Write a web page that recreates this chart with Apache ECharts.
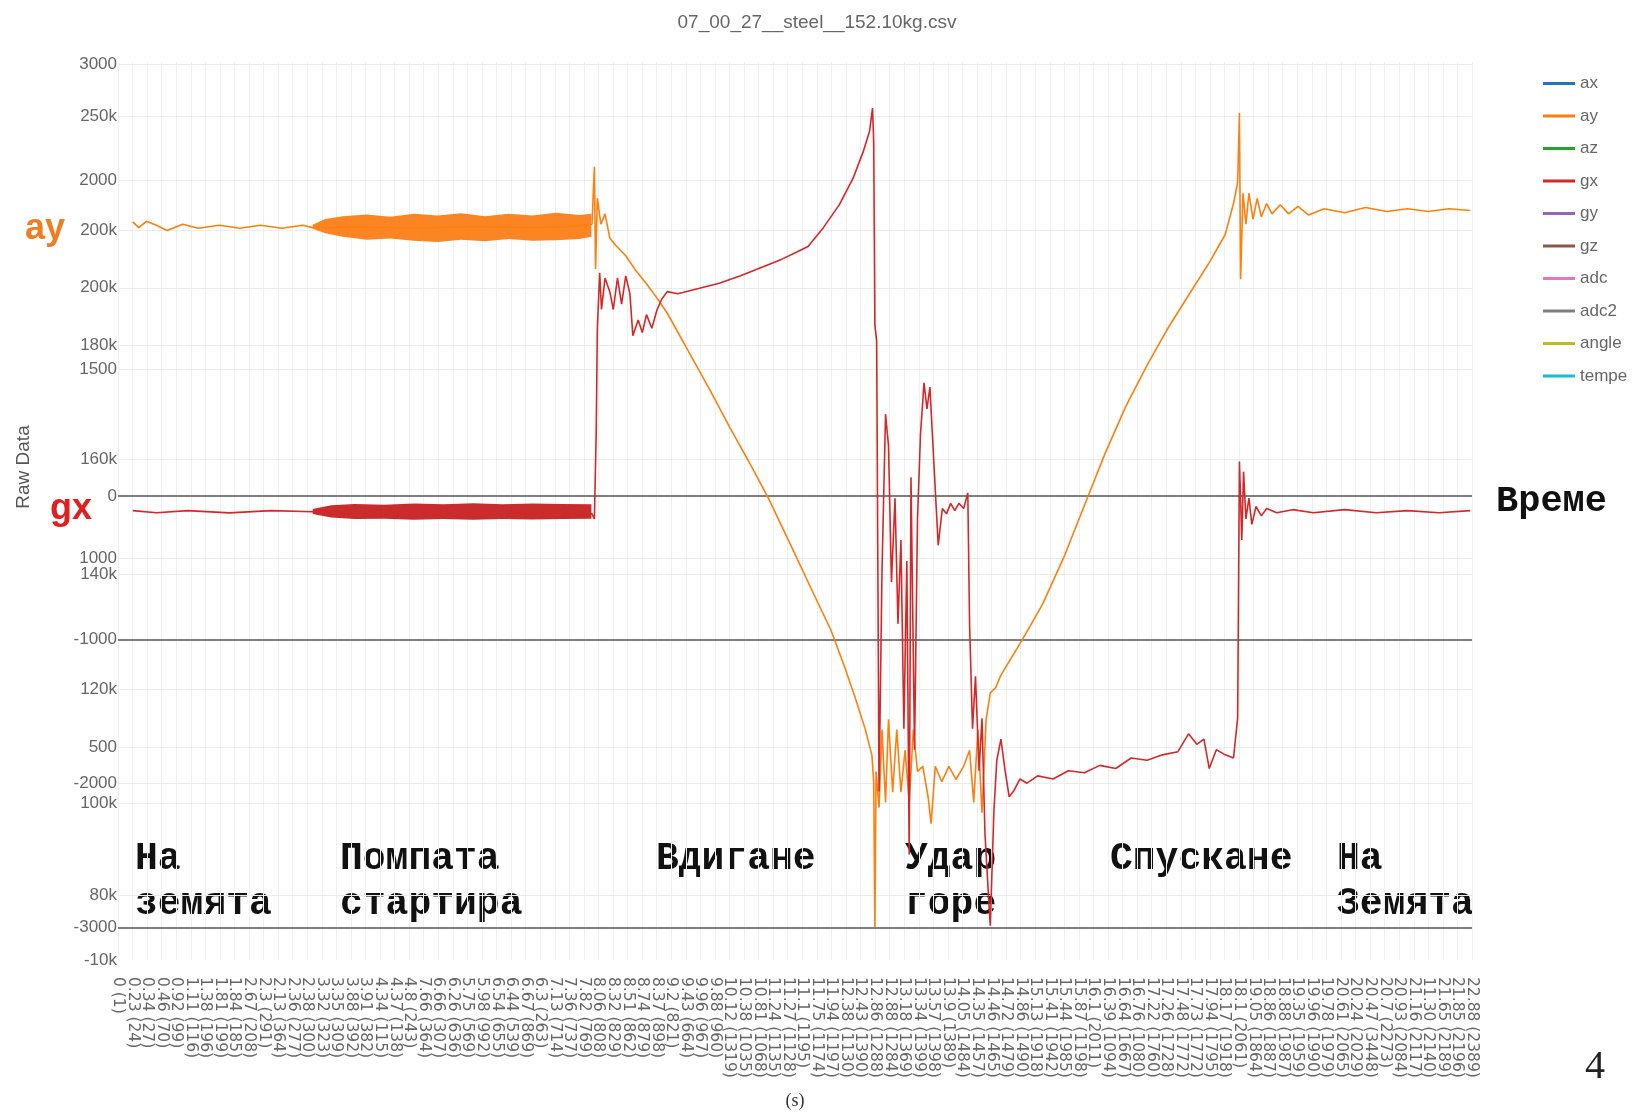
<!DOCTYPE html>
<html>
<head>
<meta charset="utf-8">
<script src="https://cdn.jsdelivr.net/npm/echarts@6/dist/echarts.min.js"></script>
<style>
html,body{margin:0;padding:0;background:#fff;}
#chart{width:1634px;height:1112px;}
</style>
</head>
<body>
<div id="chart"></div>
<script>
// x-axis category labels: "seconds (sample)"
const timeLabels = [
  '0 (1)','0.23 (24)','0.34 (27)','0.46 (70)','0.92 (99)','1.11 (116)','1.38 (196)','1.81 (199)','1.84 (185)','2.67 (208)',
  '2.3 (291)','2.13 (364)','2.36 (277)','2.38 (300)','3.32 (323)','3.35 (309)','3.88 (392)','3.91 (382)','4.34 (115)','4.37 (138)',
  '4.8 (243)','7.66 (364)','6.66 (307)','6.26 (636)','5.75 (569)','5.98 (992)','6.54 (655)','6.44 (539)','6.67 (869)','6.3 (263)',
  '7.13 (714)','7.36 (737)','7.82 (769)','8.06 (808)','8.32 (829)','8.51 (862)','8.74 (879)','8.37 (898)','9.2 (821)','9.43 (664)',
  '9.96 (967)','9.88 (960)','10.12 (1319)','10.38 (1035)','10.81 (1068)','11.24 (1135)','11.27 (1128)','11.1 (1195)','11.75 (1174)','11.94 (1197)',
  '12.38 (1130)','12.43 (1390)','12.86 (1288)','12.88 (1284)','13.18 (1369)','13.34 (1399)','13.57 (1398)','13.9 (1389)','14.05 (1484)','14.35 (1457)',
  '14.46 (1465)','14.72 (1479)','14.86 (1490)','15.13 (1918)','15.41 (1942)','15.44 (1985)','15.87 (1198)','16.1 (2011)','16.39 (1094)','16.64 (1667)',
  '16.76 (1080)','17.22 (1760)','17.26 (1728)','17.48 (1772)','17.73 (1772)','17.94 (1795)','18.17 (1918)','18.1 (2061)','19.05 (1864)','18.86 (1887)',
  '18.88 (1987)','19.35 (1959)','19.96 (1990)','19.78 (1979)','20.61 (2065)','20.24 (2029)','20.47 (3448)','20.7 (2273)','20.93 (2084)','21.16 (2117)',
  '11.30 (2140)','21.65 (2189)','21.85 (2196)','22.88 (2389)'
];
const timeMax = 22.88;

// gx axis tick values
const gxTicks = [3000, 0, -1000, -2000, -3000];
const gxRefLines = [0, -1000, -3000];
// ay axis tick values and their printed text
const ayTickValues = [220000, 200000, 190000, 180000, 160000, 140000, 120000, 100000, 84000, 72700];
const ayTickText = ['250k', '200k', '200k', '180k', '160k', '140k', '120k', '100k', '80k', '-10k'];
// third (unused) scale ticks
const auxTicks = [2000, 1500, 1000, 500];

// ay samples [s, raw]
const ayData = [
  [0.25,201500],[0.35,200500],[0.48,201600],[0.65,200900],[0.83,200000],[1.09,201100],[1.36,200400],[1.71,200900],
  [2.06,200400],[2.41,200900],[2.77,200400],[3.12,200900],[3.29,200500],[4.0,200600],[5.0,200400],[6.0,200700],
  [7.0,200500],[7.6,200700],
  [8.01,201100],[8.05,211100],[8.07,193300],[8.10,205600],[8.16,201100],[8.23,202900],[8.31,198700],[8.40,197500],
  [8.58,195600],[8.75,193000],[8.93,190700],[9.11,188200],[9.28,185600],[9.64,178900],[9.99,172400],[10.34,165600],
  [10.69,159100],[10.99,153300],[11.40,144400],[11.75,136700],[12.05,130200],[12.28,123800],[12.45,118700],[12.63,112900],
  [12.74,108400],[12.77,103800],[12.79,78400],[12.81,105600],[12.86,99300],[12.91,112900],[12.97,100200],[13.02,114700],[13.09,102000],
  [13.16,112900],[13.23,102000],[13.30,109300],[13.37,100200],[13.44,112900],[13.51,105600],[13.60,106500],[13.69,101100],
  [13.74,96500],[13.81,106500],[13.92,103800],[14.04,106500],[14.16,104200],[14.29,106500],[14.39,109300],[14.46,100200],
  [14.53,112900],[14.60,98400],[14.67,114700],[14.74,119300],[14.83,120200],[14.92,122400],[15.27,128400],[15.62,134700],
  [15.98,142900],[16.33,152000],[16.68,161100],[17.03,169300],[17.39,176500],[17.74,182900],[18.09,188700],[18.44,194400],
  [18.71,199300],[18.85,204700],[18.92,208400],[18.95,220500],[18.97,191500],[19.01,206500],[19.06,201100],[19.11,206500],
  [19.18,202000],[19.25,205600],[19.32,202400],[19.41,204700],[19.50,202900],[19.64,204500],[19.78,202900],[19.94,204200],
  [20.12,202700],[20.38,203800],[20.73,203100],[21.08,204000],[21.44,203300],[21.79,203800],[22.14,203300],[22.49,203800],
  [22.85,203500]
];
// ay oscillation envelope while the pump runs [s, upper, lower]
const ayPumpBand = [
  [3.29,201000,200300],[3.5,202000,199500],[3.8,202500,198900],[4.2,202800,198400],[4.6,202400,198600],[5.0,202900,198200],
  [5.4,202600,198000],[5.8,203000,198400],[6.2,202500,198100],[6.6,202900,198500],[7.0,202600,198200],[7.4,203100,198300],
  [7.8,202700,198500],[8.0,202900,198900]
];

// gx samples [s, raw]
const gxData = [
  [0.25,-102],[0.65,-117],[1.18,-102],[1.88,-117],[2.59,-102],[3.29,-109],[5.0,-109],[7.0,-109],
  [8.01,-124],[8.05,-160],[8.08,423],[8.10,1166],[8.14,1552],[8.17,1297],[8.23,1516],[8.31,1421],[8.37,1297],[8.44,1516],
  [8.51,1334],[8.58,1531],[8.65,1407],[8.70,1115],[8.79,1224],[8.86,1137],[8.93,1261],[9.02,1166],[9.11,1297],[9.19,1370],
  [9.28,1421],[9.46,1407],[9.81,1443],[10.16,1480],[10.52,1531],[10.87,1589],[11.22,1647],[11.48,1698],[11.66,1735],
  [11.92,1866],[12.19,2026],[12.42,2208],[12.59,2391],[12.70,2536],[12.75,2697],[12.77,2464],[12.79,1188],[12.82,1079],
  [12.86,-2055],[12.91,-525],[12.97,569],[13.02,350],[13.07,-598],[13.13,-15],[13.18,-889],[13.23,-306],[13.28,-1618],
  [13.33,-452],[13.37,-2493],[13.40,131],[13.46,-1764],[13.51,-160],[13.56,423],[13.62,787],[13.67,605],[13.72,758],
  [13.79,204],[13.86,-343],[13.93,-87],[14.00,-124],[14.07,-51],[14.14,-102],[14.21,-51],[14.29,-87],[14.36,22],
  [14.39,-889],[14.44,-1618],[14.49,-1254],[14.55,-1910],[14.60,-1545],[14.65,-2347],[14.71,-2784],[14.74,-2988],
  [14.80,-2201],[14.85,-1837],[14.92,-1691],[14.99,-1910],[15.06,-2092],[15.13,-2055],[15.24,-1968],[15.36,-1997],
  [15.54,-1946],[15.80,-1968],[16.06,-1910],[16.33,-1924],[16.59,-1873],[16.86,-1895],[17.12,-1822],[17.39,-1837],
  [17.65,-1800],[17.91,-1778],[18.09,-1654],[18.23,-1727],[18.35,-1691],[18.44,-1895],[18.56,-1764],[18.71,-1800],
  [18.85,-1822],[18.92,-1545],[18.95,240],[18.99,-306],[19.02,168],[19.06,-160],[19.11,-15],[19.16,-197],[19.23,-73],
  [19.32,-138],[19.41,-87],[19.58,-117],[19.85,-95],[20.20,-117],[20.73,-95],[21.26,-117],[21.79,-102],[22.32,-117],
  [22.85,-102]
];
// gx oscillation envelope while the pump runs [s, upper, lower]
const gxPumpBand = [
  [3.29,-90,-125],[3.6,-65,-150],[4.0,-55,-160],[4.5,-60,-158],[5.0,-52,-165],[5.5,-58,-160],[6.0,-50,-165],
  [6.5,-57,-160],[7.0,-52,-163],[7.5,-55,-160],[8.0,-58,-158]
];

const seriesNames = ['ax','ay','az','gx','gy','gz','adc','adc2','angle','tempe'];
const seriesColors = ['#1f77b4','#ff7f0e','#2ca02c','#d62728','#9467bd','#8c564b','#e377c2','#7f7f7f','#bcbd22','#17becf'];

const phaseLabels = [
  {x: 135, text: 'На\nземята'},
  {x: 340, text: 'Помпата\nстартира'},
  {x: 656, text: 'Вдигане'},
  {x: 905, text: 'Удар\nгоре'},
  {x: 1110, text: 'Спускане'},
  {x: 1337, text: 'На\nЗемята'}
];

const GRID = {left: 118, right: 162, top: 62, bottom: 152, containLabel: false, outerBoundsMode: 'none'};
const AXIS_FONT = {color: '#666', fontSize: 17, fontFamily: 'Liberation Sans'};

function bandPolygon(band, color) {
  return function (params, api) {
    const pts = [];
    band.forEach(r => pts.push(api.coord([r[0], r[1]])));
    for (let i = band.length - 1; i >= 0; i--) pts.push(api.coord([band[i][0], band[i][2]]));
    return {type: 'polygon', shape: {points: pts}, style: {fill: color, opacity: 0.92}};
  };
}

function gridLines(axisIndex, values, color, width, z) {
  return {
    type: 'line', xAxisIndex: 1, yAxisIndex: axisIndex, data: [], silent: true, z: z,
    markLine: {
      silent: true, symbol: 'none', label: {show: false}, animation: false, z: z,
      lineStyle: {color: color, type: 'solid', width: width},
      data: values.map(v => ({yAxis: v}))
    }
  };
}

const chart = echarts.init(document.getElementById('chart'), null, {renderer: 'canvas'});

const series = [
  gridLines(1, ayTickValues.slice(0, -1), '#ececec', 1, 1),
  gridLines(2, auxTicks, '#ececec', 1, 1),
  gridLines(0, gxTicks.filter(v => gxRefLines.indexOf(v) < 0), '#ececec', 1, 1),
  gridLines(0, gxRefLines, '#555', 1.5, 2)
];
seriesNames.forEach((name, i) => {
  const s = {
    name: name, type: 'line', xAxisIndex: 1, yAxisIndex: 0, data: [],
    showSymbol: false, symbol: 'none', color: seriesColors[i],
    lineStyle: {width: 1.6}, animation: false
  };
  if (name === 'ay') { s.yAxisIndex = 1; s.data = ayData; s.z = 3; }
  if (name === 'gx') { s.data = gxData; s.z = 4; }
  series.push(s);
});
series.push({
  type: 'custom', xAxisIndex: 1, yAxisIndex: 1, data: [0], z: 3, silent: true,
  renderItem: bandPolygon(ayPumpBand, '#fb7b10')
});
series.push({
  type: 'custom', xAxisIndex: 1, yAxisIndex: 0, data: [0], z: 4, silent: true,
  renderItem: bandPolygon(gxPumpBand, '#c41a1a')
});

const graphics = [
  {type: 'text', left: 25, top: 211, style: {text: 'ay', fill: '#ef7d22', font: 'bold 36px "Liberation Sans"'}},
  {type: 'text', left: 50, top: 491, style: {text: 'gx', fill: '#e02020', font: 'bold 36px "Liberation Sans"'}},
  {type: 'text', left: 1496, top: 483, style: {text: 'Време', fill: '#111', font: 'bold 37px "Liberation Mono"'}},
  {type: 'text', left: 1585, top: 1047, style: {text: '4', fill: '#222', font: '40px "Liberation Serif"'}},
  {type: 'text', x: 24, y: 467, rotation: Math.PI / 2, style: {text: 'Raw Data', fill: '#555', font: '19px "Liberation Sans"', align: 'center', verticalAlign: 'middle'}}
];
phaseLabels.forEach(p => graphics.push({
  type: 'text', left: p.x, top: 837,
  style: {text: p.text, fill: '#111', font: 'bold 38px "Liberation Mono"', lineHeight: 45}
}));

const plainNumber = v => String(v);

chart.setOption({
  animation: false,
  backgroundColor: '#fff',
  title: {
    text: '07_00_27__steel__152.10kg.csv', left: 'center', top: 8,
    textStyle: {color: '#666', fontSize: 19, fontWeight: 'normal', fontFamily: 'Liberation Sans'}
  },
  legend: {
    data: seriesNames, orient: 'vertical', left: 1538, top: 70,
    icon: 'rect', itemWidth: 32, itemHeight: 3, itemGap: 15.5,
    textStyle: {color: '#666', fontSize: 17, fontFamily: 'Liberation Sans'}
  },
  grid: GRID,
  xAxis: [
    {
      type: 'category', data: timeLabels, boundaryGap: false,
      name: '(s)', nameLocation: 'middle', nameGap: 132,
      nameTextStyle: {color: '#333', fontSize: 18, fontFamily: 'Liberation Serif'},
      axisLine: {show: false}, axisTick: {show: false},
      axisLabel: {interval: 0, rotate: -90, margin: 17, color: '#666', fontSize: 15.5, fontFamily: 'DejaVu Sans'},
      splitLine: {show: true, lineStyle: {color: '#efefef', width: 1}}
    },
    {type: 'value', min: 0, max: timeMax, show: false}
  ],
  yAxis: [
    {
      type: 'value', min: -3226.5, max: 3017.9, position: 'left',
      axisLine: {show: false}, axisTick: {show: false}, splitLine: {show: false},
      axisLabel: Object.assign({customValues: gxTicks, margin: 1, formatter: plainNumber}, AXIS_FONT)
    },
    {
      type: 'value', min: 72700, max: 229400, position: 'left',
      axisLine: {show: false}, axisTick: {show: false}, splitLine: {show: false},
      axisLabel: Object.assign({
        customValues: ayTickValues, margin: 1,
        formatter: v => {
          let best = 0;
          ayTickValues.forEach((t, i) => { if (Math.abs(t - v) < Math.abs(ayTickValues[best] - v)) best = i; });
          return ayTickText[best];
        }
      }, AXIS_FONT)
    },
    {
      type: 'value', min: -63.5, max: 2312, position: 'left',
      axisLine: {show: false}, axisTick: {show: false}, splitLine: {show: false},
      axisLabel: Object.assign({customValues: auxTicks, margin: 1, formatter: plainNumber}, AXIS_FONT)
    }
  ],
  graphic: graphics,
  series: series
});
</script>
</body>
</html>
